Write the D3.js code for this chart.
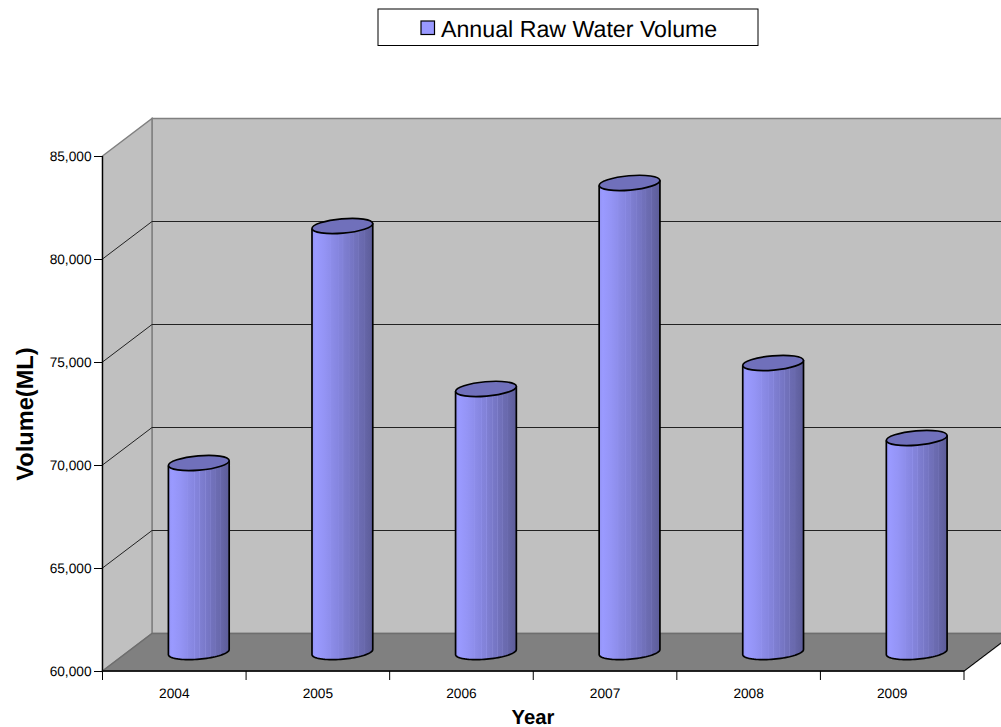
<!DOCTYPE html>
<html><head><meta charset="utf-8">
<script src="https://cdn.jsdelivr.net/npm/d3@7/dist/d3.min.js"></script>
<style>html,body{margin:0;background:#fff}svg{display:block}text{font-family:"Liberation Sans",Arial,sans-serif;fill:#000;text-rendering:geometricPrecision}</style>
</head><body><svg id="c" width="1001" height="727"></svg>
<script>
const years = ["2004","2005","2006","2007","2008","2009"];
const volumes = [69175,80680,72770,82770,74030,70390];
const yTicks = [60000,65000,70000,75000,80000,85000];
const seriesName = "Annual Raw Water Volume";

const svg = d3.select("#c");
const y = d3.scaleLinear().domain([60000,85000]).range([671,156]);
const x = d3.scaleBand().domain(years).range([102.5,964]);
const dx = 49.5, dy = -37.5;
const fmt = d3.format(",");

const defs = svg.append("defs");
const grad = defs.append("linearGradient").attr("id","cyl");
const stops = [[0,"#9494f4"],[.06,"#9a9aff"],[.2,"#9494f5"],[.3,"#8e8eec"],[.31,"#9292ee"],[.32,"#8c8ce8"],[.42,"#8686e0"],[.43,"#8e8ee8"],[.44,"#8484dc"],[.5,"#8282d8"],[.51,"#8c8ce2"],[.52,"#7f7fd2"],[.6,"#7a7acb"],[.61,"#8585d3"],[.62,"#7878c8"],[.68,"#7575c2"],[.69,"#8080cc"],[.7,"#7272bd"],[.76,"#7070b8"],[.77,"#7a7ac2"],[.78,"#6c6cb2"],[.85,"#6969ad"],[.86,"#7070b4"],[.87,"#6666a8"],[1,"#5c5c98"]];
grad.selectAll("stop").data(stops).join("stop").attr("offset",d=>d[0]).attr("stop-color",d=>d[1]);

const gray = "#808080";
const x0 = x.range()[0], x1 = x.range()[1], yB = y.range()[0], yT = y.range()[1];
const poly = (pts,fill,stroke)=>svg.append("path").attr("d",d3.line()(pts)+"Z").attr("fill",fill).attr("stroke",stroke).attr("stroke-width",1.5);
poly([[x0+dx,yT+dy],[x1+dx,yT+dy],[x1+dx,yB+dy],[x0+dx,yB+dy]],"#c0c0c0",gray);
poly([[x0,yT],[x0+dx,yT+dy],[x0+dx,yB+dy],[x0,yB]],"#c0c0c0",gray);
poly([[x0,yB],[x0+dx,yB+dy],[x1+dx,yB+dy],[x1,yB]],"#808080","#6e6e6e");

const grid = svg.append("g");
yTicks.slice(1,-1).forEach(t=>{
  grid.append("path").attr("fill","none").attr("stroke","#222").attr("stroke-width",1)
    .attr("d",d3.line()([[x0,y(t)],[x0+dx,y(t)+dy],[x1+dx,y(t)+dy]]));
});
svg.append("line").attr("x1",x1).attr("y1",yB).attr("x2",x1+dx).attr("y2",yB+dy).attr("stroke","#000");

const rx = 30.5, ry = 7.2, rot = -5, baseOff = 19;
const a = rot*Math.PI/180;
const ell = (cx,cy,t)=>[cx+rx*Math.cos(t)*Math.cos(a)-ry*Math.sin(t)*Math.sin(a), cy+rx*Math.cos(t)*Math.sin(a)+ry*Math.sin(t)*Math.cos(a)];
const halfT = d3.range(0,41).map(i=>Math.PI*i/40);
const bars = svg.append("g").selectAll("g").data(years.map((k,i)=>({k,v:volumes[i]}))).join("g");
bars.each(function(d){
  const g = d3.select(this);
  const cx = x(d.k)+x.bandwidth()/2 + 24.5;
  const yTop = y(d.v) - baseOff, yBot = y(60000) - baseOff;
  const pts = [ell(cx,yTop,0), ...halfT.map(t=>ell(cx,yBot,t)), ell(cx,yTop,Math.PI)];
  g.append("path").attr("fill","url(#cyl)").attr("stroke","#000").attr("stroke-width",1.7)
    .attr("d",d3.line()(pts));
  g.append("ellipse").attr("transform",`translate(${cx},${yTop}) rotate(${rot})`)
    .attr("rx",rx).attr("ry",ry).attr("fill","#7070bb").attr("stroke","#000").attr("stroke-width",1.7);
});

const yAxis = svg.append("g").attr("transform",`translate(${x0},0)`).call(d3.axisLeft(y).tickValues(yTicks).tickFormat(fmt).tickSize(8.5).tickPadding(2.5));
yAxis.selectAll("text").attr("font-size",13.7).style("font-family",'"Liberation Sans",Arial,sans-serif');
yAxis.select(".domain").attr("stroke","#000").attr("stroke-width",1.3).attr("d",`M0,${yT}V${yB}`);
const xAxis = svg.append("g").attr("transform",`translate(0,${yB})`);
xAxis.append("line").attr("x1",x0).attr("x2",x1).attr("stroke","#000").attr("stroke-width",1.3);
xAxis.selectAll(".tk").data(d3.range(years.length+1)).join("line").attr("class","tk")
  .attr("x1",i=>x0+i*x.step()).attr("x2",i=>x0+i*x.step()).attr("y1",0).attr("y2",9).attr("stroke","#000");
xAxis.selectAll(".lb").data(years).join("text").attr("class","lb")
  .attr("x",d=>x(d)+x.bandwidth()/2).attr("y",26.5).attr("text-anchor","middle").attr("font-size",13.7).text(d=>d);

svg.append("text").attr("x",533).attr("y",723.5).attr("text-anchor","middle").attr("font-size",20.3).attr("font-weight","bold").text("Year");
svg.append("text").attr("transform","translate(32.5,414) rotate(-90)").attr("text-anchor","middle").attr("font-size",23.6).attr("font-weight","bold").text("Volume(ML)");

svg.append("rect").attr("x",378).attr("y",9).attr("width",380).attr("height",36.5).attr("fill","#fff").attr("stroke","#000");
svg.append("rect").attr("x",421).attr("y",21).attr("width",13.5).attr("height",13.5).attr("fill","#9999ff").attr("stroke","#000").attr("stroke-width",1.2);
svg.append("text").attr("x",441).attr("y",36.5).attr("font-size",23.2).text(seriesName);
</script></body></html>
